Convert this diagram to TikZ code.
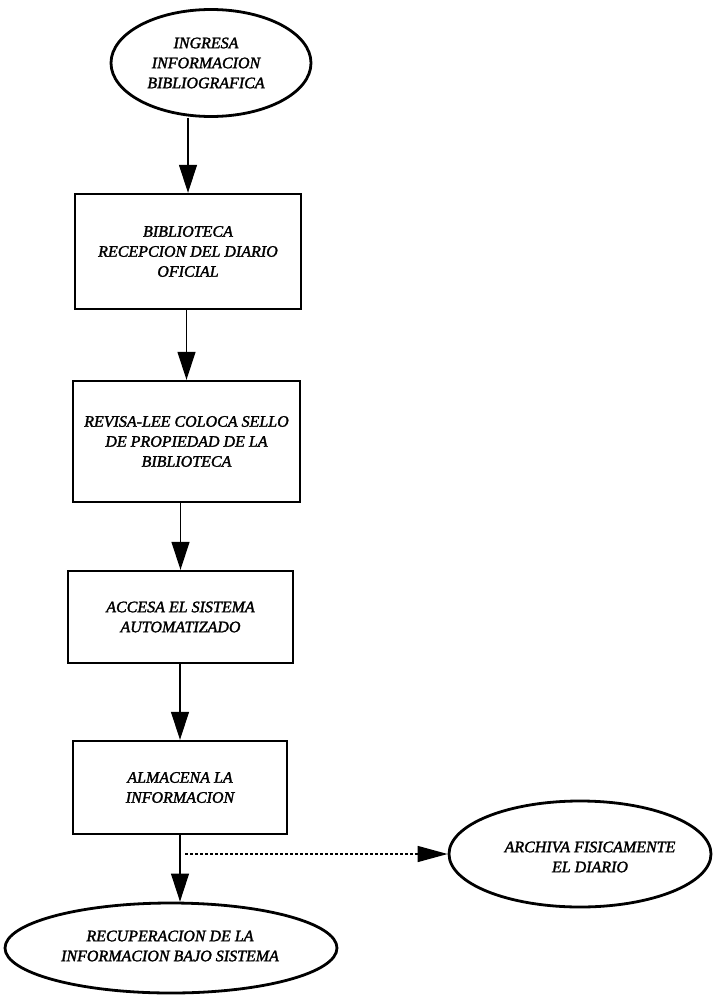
\documentclass[tikz,border=0pt]{standalone}
\usepackage{fontspec}
\setmainfont{Liberation Serif}
\newfontfamily\diagfont[FakeBold=1.8]{Liberation Serif}
\usetikzlibrary{shapes.geometric,arrows.meta}
\begin{document}
\begin{tikzpicture}[x=1pt,y=-1pt,
  txt/.style={font=\diagfont\itshape\fontsize{16}{20}\selectfont, align=center, inner sep=0pt},
  box/.style={draw, line width=2.4pt, rectangle, inner sep=0pt, align=center,
    font=\diagfont\itshape\fontsize{16}{20}\selectfont},
  oval/.style={draw, line width=2.8pt, ellipse, inner sep=0pt},
  arr/.style={line width=1.1pt, -{Triangle[length=28pt,width=18pt]}},
  darr/.style={line width=1.4pt, dash pattern=on 3pt off 2pt, -{Triangle[length=30pt,width=16pt]}}]
\useasboundingbox (0,0) rectangle (714,995);
% nodes
\node[oval, minimum width=200pt, minimum height=107pt] (e1) at (211,63) {};
\node[txt] (e1t) at (206,63) {INGRESA\\INFORMACION\\BIBLIOGRAFICA};
\node[box, minimum width=226pt, minimum height=115pt] (b1) at (188,251.5) {BIBLIOTECA\\RECEPCION DEL DIARIO\\OFICIAL};
\node[box, minimum width=227pt, minimum height=121pt] (b2) at (186.5,441.5) {REVISA-LEE COLOCA SELLO\\DE PROPIEDAD DE LA\\BIBLIOTECA};
\node[box, minimum width=225pt, minimum height=92pt] (b3) at (180.5,617) {ACCESA EL SISTEMA\\AUTOMATIZADO};
\node[box, minimum width=214pt, minimum height=93pt] (b4) at (180,787.5) {ALMACENA LA\\INFORMACION};
\node[oval, minimum width=262pt, minimum height=106pt] (e2) at (580,854) {};
\node[txt] (e2t) at (590,857) {ARCHIVA FISICAMENTE\\EL DIARIO};
\node[oval, minimum width=332pt, minimum height=90pt] (e3) at (171,948) {};
\node[txt] (e3t) at (170,946) {RECUPERACION DE LA\\INFORMACION BAJO SISTEMA};
\coordinate (ds) at (185,854);
% connectors
\draw[arr] (e1.south -| b1.north) -- (b1.north);
\draw[arr] (b2.north |- b1.south) -- (b2.north);
\draw[arr] (b3.north |- b2.south) -- (b3.north);
\draw[arr] (b4.north |- b3.south) -- (b4.north);
\draw[arr] (b4.south) -- (b4.south |- e3.north);
\draw[darr] (ds) -- (e2.west);
\end{tikzpicture}
\end{document}
